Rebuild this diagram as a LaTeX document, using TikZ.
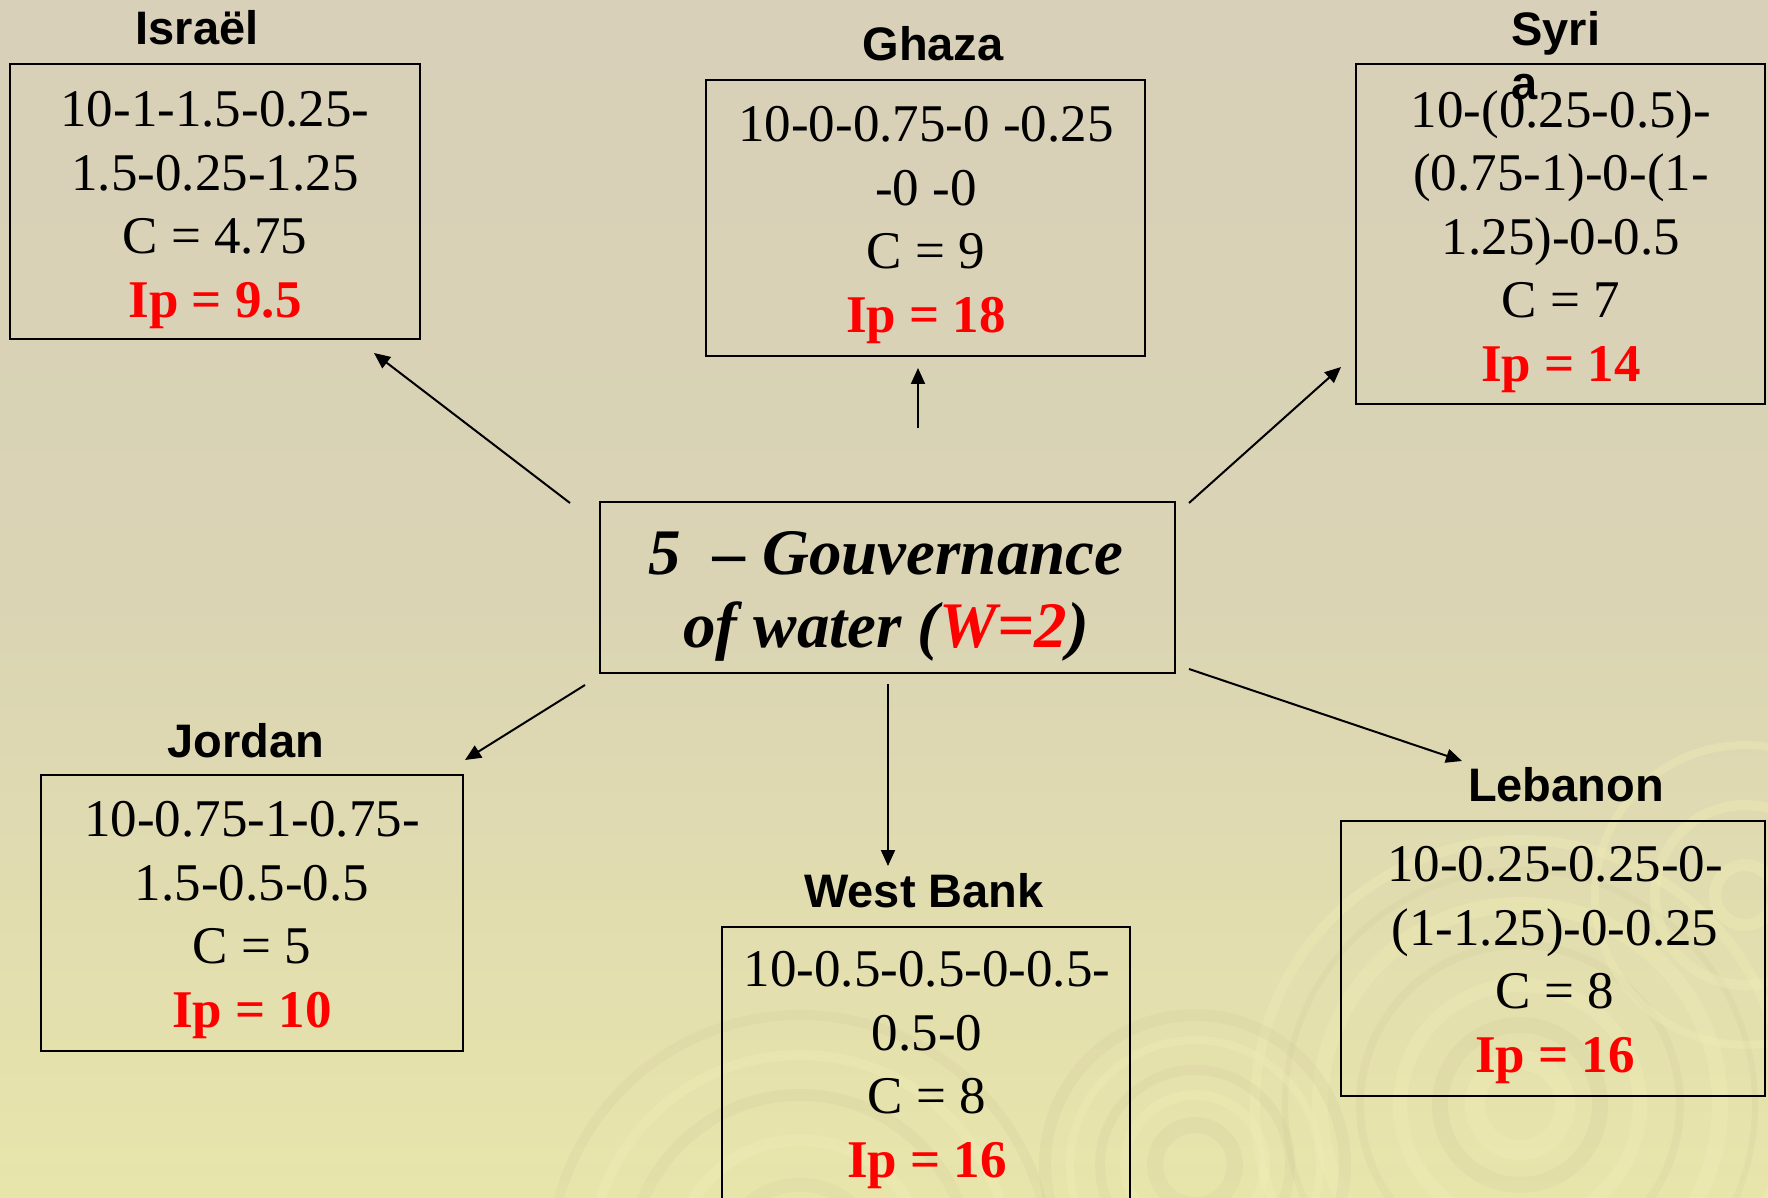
\documentclass[tikz,border=0pt]{standalone}
\usepackage{fontspec}
\setmainfont{Liberation Serif}
\newfontfamily\labfont{Liberation Sans}
\usetikzlibrary{arrows.meta}
\definecolor{bgtop}{HTML}{D8D0B8}
\definecolor{bgmid}{HTML}{DAD4B4}
\definecolor{bgbot}{HTML}{E8E5AB}
\definecolor{ipred}{HTML}{FF0000}
\definecolor{ringlight}{HTML}{EFECB6}
\definecolor{ringdark}{HTML}{CFCA9A}
\begin{document}
\begin{tikzpicture}[x=0.5pt,y=-0.5pt,
  box/.style={draw=black, line width=1.2pt, inner sep=0pt},
  txt/.style={inner sep=0pt, align=center, anchor=north, font=\fontsize{26.5}{31.75}\selectfont},
  gtxt/.style={inner sep=0pt, align=center, anchor=north, font=\bfseries\itshape\fontsize{32.5}{36.5}\selectfont},
  lab/.style={inner sep=0pt, anchor=base, font=\labfont\bfseries\fontsize{23.5}{27.5}\selectfont},
  arr/.style={line width=1pt, -{Triangle[length=8pt,width=7pt]}},
  rl/.style={draw=ringlight, opacity=0.4},
  rd/.style={draw=ringdark, opacity=0.22}
]
\useasboundingbox (0,0) rectangle (1768,1198);
\begin{scope}
\clip (0,0) rectangle (1768,1198);
% background
\fill[top color=bgtop, bottom color=bgbot, middle color=bgmid] (0,0) rectangle (1768,1198);
% decorative ripples
\foreach \r/\w in {45/10, 120/7, 200/8, 265/5}{\draw[rl, line width=\w pt] (1520,1105) circle (\r);}
\foreach \r/\w in {80/8, 160/4, 235/3}{\draw[rd, line width=\w pt] (1520,1105) circle (\r);}
\foreach \r/\w in {30/6, 90/5, 150/4}{\draw[rl, line width=\w pt] (1745,895) circle (\r);}
\foreach \r/\w in {40/8, 95/5, 150/6}{\draw[rd, line width=\w pt] (1195,1165) circle (\r);}
\foreach \r/\w in {70/5, 125/4}{\draw[rl, line width=\w pt] (1195,1165) circle (\r);}
\foreach \r/\w in {80/7, 170/6, 250/5}{\draw[rd, line width=\w pt] (800,1265) circle (\r);}
\foreach \r/\w in {125/6, 210/5}{\draw[rl, line width=\w pt] (800,1265) circle (\r);}

% boxes
\node[box, minimum width=205pt,   minimum height=137.5pt] (isr) at (215,201.5) {};
\node[box, minimum width=219.5pt, minimum height=138pt]   (gha) at (925.5,218) {};
\node[box, minimum width=204.5pt, minimum height=170pt]   (syr) at (1560.5,234) {};
\node[box, minimum width=211pt,   minimum height=138pt]   (jor) at (252,913) {};
\node[box, minimum width=204pt,   minimum height=170pt]   (wb)  at (926,1097) {};
\node[box, minimum width=212pt,   minimum height=137.5pt] (leb) at (1553,958.5) {};
\node[box, minimum width=287.5pt, minimum height=85.5pt]  (gov) at (887.5,587.5) {};

% box texts
\node[txt] (isrt) at (215,91) {10-1-1.5-0.25-\\1.5-0.25-1.25\\C = 4.75\\\textcolor{ipred}{\bfseries Ip = 9.5}};
\node[txt] (ghat) at (926,106) {10-0-0.75-0 -0.25\\-0 -0\\C = 9\\\textcolor{ipred}{\bfseries Ip = 18}};
\node[txt] (syrt) at (1561,90) {10-(0.25-0.5)-\\(0.75-1)-0-(1-\\1.25)-0-0.5\\C = 7\\\textcolor{ipred}{\bfseries Ip = 14}};
\node[txt] (jort) at (252,801) {10-0.75-1-0.75-\\1.5-0.5-0.5\\C = 5\\\textcolor{ipred}{\bfseries Ip = 10}};
\node[txt] (wbt)  at (927,951) {10-0.5-0.5-0-0.5-\\0.5-0\\C = 8\\\textcolor{ipred}{\bfseries Ip = 16}};
\node[txt] (lebt) at (1555,846) {10-0.25-0.25-0-\\(1-1.25)-0-0.25\\C = 8\\\textcolor{ipred}{\bfseries Ip = 16}};
\node[gtxt] (govt) at (886,531) {5~~– Gouvernance\\of water (\textcolor{ipred}{W=2})};

% labels
\node[lab] (isrl) at (197,45) {Israël};
\node[lab] (ghal) at (933,61) {Ghaza};
\node[lab, anchor=north west, align=left] (syrl) at (1511,11) {Syri\\[-0.5pt]a};
\node[lab] (jorl) at (246,757) {Jordan};
\node[lab] (wbl)  at (924,907) {West Bank};
\node[lab] (lebl) at (1566,801) {Lebanon};

% arrow ends
\coordinate (aIs) at (570,503);  \coordinate (aIe) at (374,353);
\coordinate (aGs) at (918,428);  \coordinate (aGe) at (918,368);
\coordinate (aSs) at (1189,503); \coordinate (aSe) at (1341,367);
\coordinate (aJs) at (585,685);  \coordinate (aJe) at (465,760);
\coordinate (aWs) at (888,684);  \coordinate (aWe) at (888,866);
\coordinate (aLs) at (1189,669); \coordinate (aLe) at (1462,761);

\draw[arr] (aIs) -- (aIe);
\draw[arr] (aGs) -- (aGe);
\draw[arr] (aSs) -- (aSe);
\draw[arr] (aJs) -- (aJe);
\draw[arr] (aWs) -- (aWe);
\draw[arr] (aLs) -- (aLe);
\end{scope}
\end{tikzpicture}
\end{document}
